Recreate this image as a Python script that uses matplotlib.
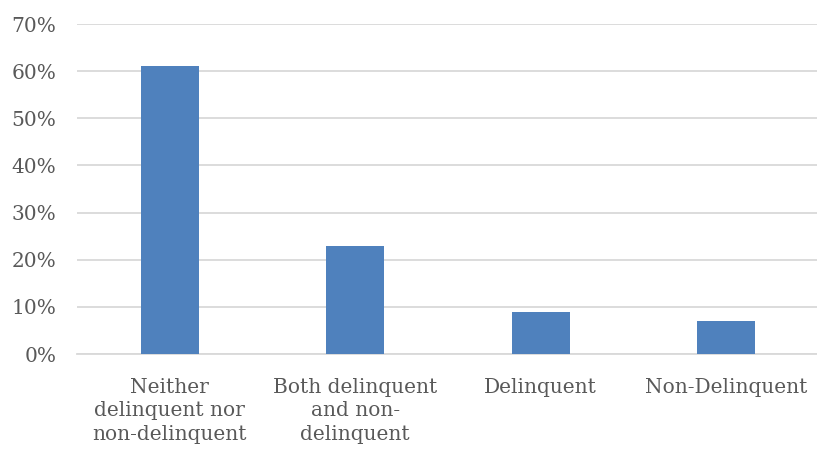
import matplotlib.pyplot as plt
from matplotlib.ticker import FuncFormatter

# Kategoriler ve oranlar (%)
categories = ['Neither\ndelinquent nor\nnon-delinquent',
              'Both delinquent\nand non-\ndelinquent',
              'Delinquent',
              'Non-Delinquent']
values = [61, 23, 9, 7]

plt.rcParams['font.family'] = ['DejaVu Serif']

fig = plt.figure(figsize=(8.17, 4.55), dpi=100)
ax = fig.add_axes([77 / 817, 101 / 455, 742 / 817, 330 / 455])

ax.bar(range(len(values)), values, width=0.31, color='#4F81BD', zorder=3)

ax.set_xlim(-0.5, len(values) - 0.5)
ax.set_ylim(0, 70)
ax.set_yticks(range(0, 71, 10))
ax.yaxis.set_major_formatter(FuncFormatter(lambda v, p: f'{v:.0f}%'))
ax.set_xticks(range(len(values)))
ax.set_xticklabels(categories, linespacing=1.3)

ax.grid(axis='y', color='#D9D9D9', linewidth=1.3, zorder=0)
for s in ['top', 'right', 'left']:
    ax.spines[s].set_visible(False)
ax.spines['bottom'].set_color('#D9D9D9')
ax.spines['bottom'].set_linewidth(1.3)
ax.tick_params(axis='both', length=0, labelsize=14.5, colors='#595959')
ax.tick_params(axis='x', pad=17)
ax.tick_params(axis='y', pad=15)

fig.savefig('out.png', dpi=100)
